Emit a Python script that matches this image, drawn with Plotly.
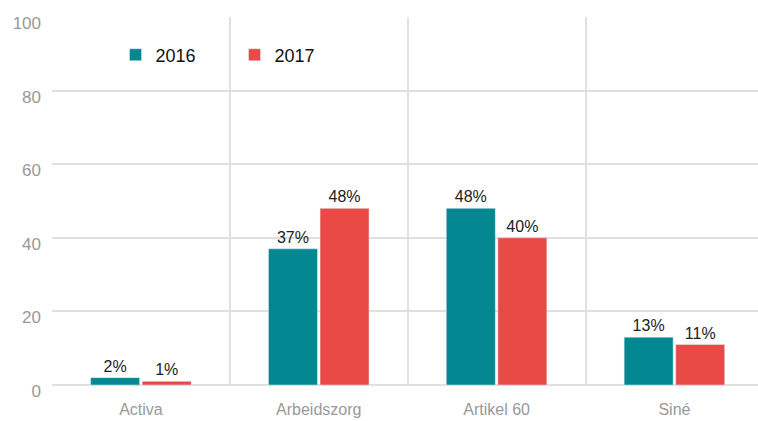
import plotly.graph_objects as go

categories = ["Activa", "Arbeidszorg", "Artikel 60", "Siné"]
values_2016 = [2, 37, 48, 13]
values_2017 = [1, 48, 40, 11]
labels_2016 = ["2%", "37%", "48%", "13%"]
labels_2017 = ["1%", "48%", "40%", "11%"]
y_ticks = [0, 20, 40, 60, 80, 100]

FONT = "Liberation Sans, Arial, sans-serif"
x = list(range(len(categories)))

fig = go.Figure()
fig.add_trace(go.Bar(x=x, y=values_2016, name="2016", marker_color="#038790",
                     text=labels_2016, textposition="outside",
                     textfont=dict(size=16, color="#222", family=FONT), cliponaxis=False))
fig.add_trace(go.Bar(x=x, y=values_2017, name="2017", marker_color="#E94A45",
                     text=labels_2017, textposition="outside",
                     textfont=dict(size=16, color="#222", family=FONT), cliponaxis=False))

fig.update_layout(
    width=758, height=421,
    margin=dict(l=52, r=0, t=17, b=36),
    plot_bgcolor="white", paper_bgcolor="white",
    barmode="group", bargap=0.42, bargroupgap=0.05,
    font=dict(family=FONT),
    legend=dict(orientation="h", x=0.09, y=0.947, xanchor="left", yanchor="top",
                font=dict(size=18, color="#111", family=FONT),
                entrywidth=74, bgcolor="rgba(0,0,0,0)"),
    xaxis=dict(range=[-0.5, 3.47], tickvals=x, ticktext=categories,
               showgrid=False, zeroline=False, showline=False, ticks="",
               ticklabelstandoff=13,
               tickfont=dict(size=16, color="#999"),
               minor=dict(tickvals=[-0.5, 0.5, 1.5, 2.5], showgrid=True,
                          gridcolor="#e0e0e0", gridwidth=1.5, ticks="")),
    yaxis=dict(range=[0, 100], tickvals=y_ticks, showgrid=True,
               gridcolor="#e0e0e0", gridwidth=1.5, zeroline=True,
               zerolinecolor="#e0e0e0", zerolinewidth=1.5,
               ticklabelstandoff=10, ticklabelshift=6,
               tickfont=dict(size=17, color="#999"), ticks=""),
)
fig.write_html("out.html", config={"displayModeBar": False},
               post_script="document.body.style.margin='0';")
